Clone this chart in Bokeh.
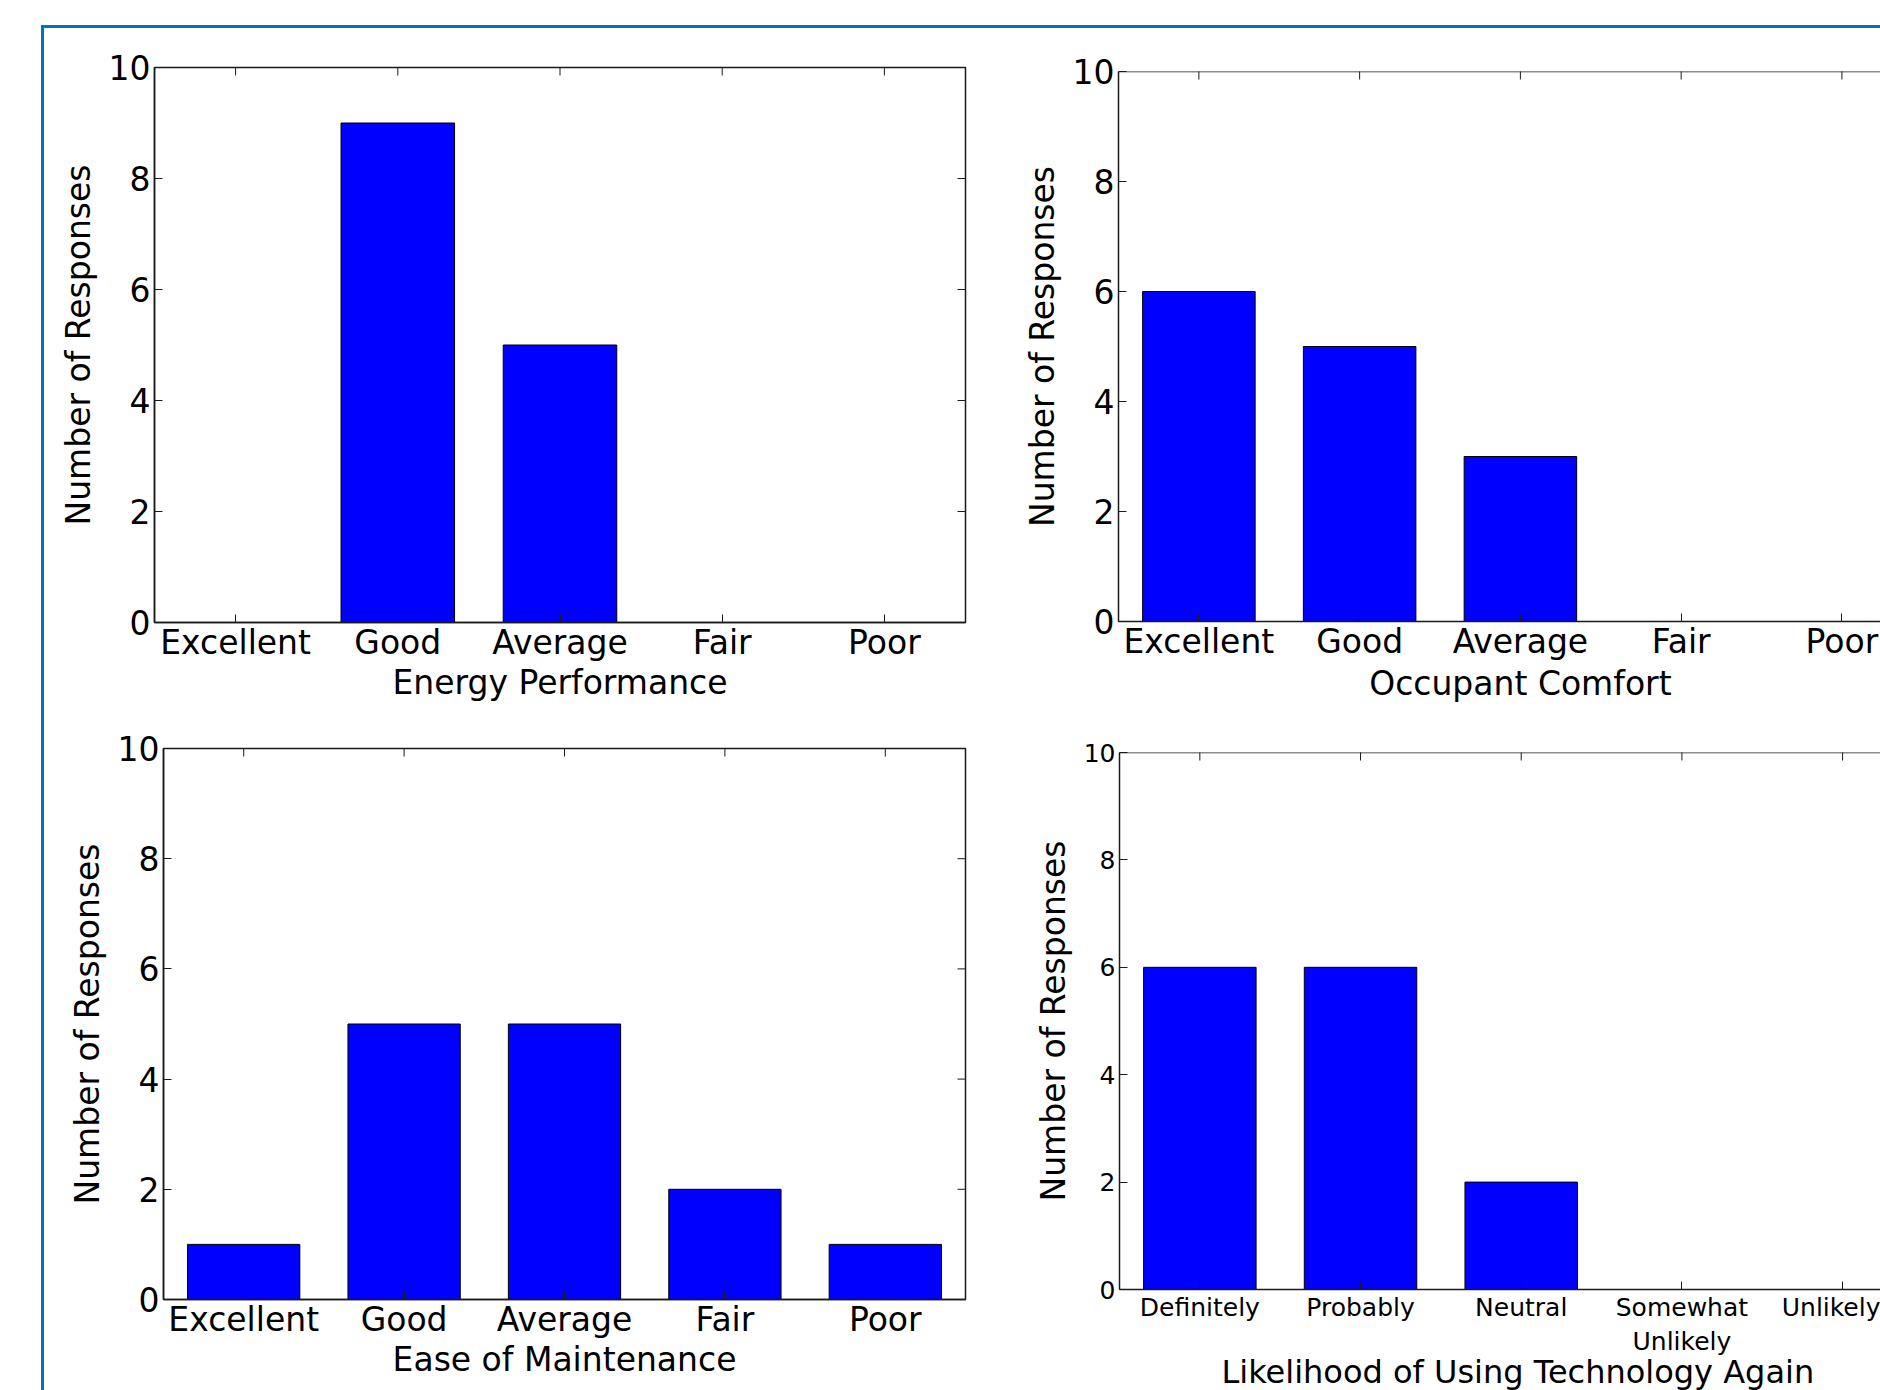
import math
from bokeh.plotting import figure
from bokeh.models import Range1d, FixedTicker, Div, Spacer, Span, Title
from bokeh.layouts import column, row
from bokeh.embed import file_html
from bokeh.resources import INLINE

# ---- data ----
rating_categories = ["Excellent", "Good", "Average", "Fair", "Poor"]
likelihood_categories = ["Definitely", "Probably", "Neutral", "Somewhat\nUnlikely", "Unlikely"]
energy_performance = [0, 9, 5, 0, 0]
occupant_comfort = [6, 5, 3, 0, 0]
ease_of_maintenance = [1, 5, 5, 2, 1]
likelihood_again = [6, 6, 2, 0, 0]
y_ticks = [0, 2, 4, 6, 8, 10]
y_label = "Number of Responses"

FONT = "DejaVu Sans"
AXIS_COLOR = "#1a1a1a"
BLUE_FRAME = "#0070c0"
BAR_COLOR = "#0000ff"
TICK_LEN = 8

# DejaVu Sans advance widths (em) used to centre a title on a given point
_ADV = {" ": .318, "A": .684, "C": .698, "L": .557, "O": .787, "T": .611, "U": .732,
        "a": .613, "c": .550, "d": .635, "e": .615, "f": .352, "g": .635, "h": .634,
        "i": .278, "k": .579, "l": .278, "m": .974, "n": .634, "o": .612, "p": .635,
        "r": .411, "s": .521, "t": .392, "u": .634, "y": .592}


def text_width(s, px):
    return sum(_ADV.get(ch, 0.6) for ch in s) * px


def style_axis(ax, font_size, standoff):
    ax.major_tick_in = TICK_LEN
    ax.major_tick_out = 0
    ax.minor_tick_in = 0
    ax.minor_tick_out = 0
    ax.axis_line_color = AXIS_COLOR
    ax.axis_line_width = 1.5
    ax.major_tick_line_color = AXIS_COLOR
    ax.major_tick_line_width = 1
    ax.major_label_text_font = FONT
    ax.major_label_text_font_size = font_size
    ax.major_label_text_color = "black"
    ax.major_label_standoff = standoff
    ax.axis_label_text_font = FONT
    ax.axis_label_text_font_style = "normal"
    ax.axis_label_text_color = "black"


def make_panel(cats, vals, xlabel, width, height, borders, x_end,
               xtick_font, ytick_font, xlabel_px, ylabel_font, cropped,
               xtick_standoff=0, title_standoff=0):
    left, right, top, bottom = borders
    p = figure(width=width, height=height, output_backend="svg", toolbar_location=None,
               x_range=Range1d(-0.5, x_end), y_range=Range1d(0, 10),
               min_border_left=left, min_border_right=right,
               min_border_top=top, min_border_bottom=bottom)
    p.grid.visible = False
    p.background_fill_color = "white"
    p.border_fill_color = "white"
    xs = list(range(len(cats)))
    p.vbar(x=xs, top=vals, width=0.7, fill_color=BAR_COLOR,
           line_color="black", line_width=1)

    xa = p.xaxis[0]
    xa.ticker = FixedTicker(ticks=xs)
    xa.major_label_overrides = {i: c for i, c in enumerate(cats)}
    style_axis(xa, xtick_font, xtick_standoff)

    ya = p.yaxis[0]
    ya.ticker = FixedTicker(ticks=y_ticks)
    style_axis(ya, ytick_font, 4)
    ya.axis_label = y_label
    ya.axis_label_text_font_size = ylabel_font
    ya.axis_label_standoff = 8

    # inward ticks on the top edge
    p.scatter(x=xs, y=[y_ticks[-1]] * len(xs), marker="dash", size=2 * TICK_LEN,
              angle=math.pi / 2, line_color=AXIS_COLOR, line_width=1)

    if cropped:
        # right part of the panel is cut off by the page edge: no right border,
        # x title centred on the middle category (centre of the full, uncut panel)
        p.outline_line_color = None
        p.add_layout(Span(location=y_ticks[-1], dimension="width",
                          line_color=AXIS_COLOR, line_width=1.5))
        frame_w = width - left - right
        slot = frame_w / (x_end + 0.5)
        mid_px = (len(xs) // 2 + 0.5) * slot
        p.add_layout(Title(text=xlabel, align="left",
                           offset=mid_px - text_width(xlabel, xlabel_px) / 2,
                           standoff=title_standoff, text_font=FONT,
                           text_font_size=f"{xlabel_px}px",
                           text_font_style="normal", text_color="black",
                           vertical_align="top"), "below")
    else:
        p.outline_line_color = AXIS_COLOR
        p.outline_line_width = 1.5
        xa.axis_label = xlabel
        xa.axis_label_text_font_size = f"{xlabel_px}px"
        xa.axis_label_standoff = -2
        # inward ticks on the right edge
        p.scatter(x=[x_end] * len(y_ticks), y=y_ticks, marker="dash", size=2 * TICK_LEN,
                  line_color=AXIS_COLOR, line_width=1)
    return p


tl = make_panel(rating_categories, energy_performance, "Energy Performance",
                956, 687, (110, 35, 39, 93), 4.5, "33px", "33px", 33, "33px", False)
tr = make_panel(rating_categories, occupant_comfort, "Occupant Comfort",
                880, 687, (118, 0, 43, 94), 4.24, "33px", "33px", 33, "33px", True)
bl = make_panel(rating_categories, ease_of_maintenance, "Ease of Maintenance",
                956, 675, (119, 35, 33, 91), 4.5, "33px", "33px", 33, "33px", False)
br = make_panel(likelihood_categories, likelihood_again, "Likelihood of Using Technology Again",
                880, 675, (119, 0, 37, 101), 4.236, "25px", "25px", 32, "33px", True,
                xtick_standoff=3, title_standoff=-14)

top_bar = Div(width=1839, height=3, margin=0, styles={"background-color": BLUE_FRAME})
left_bar = Div(width=3, height=1362, margin=0, styles={"background-color": BLUE_FRAME})

charts = column(
    row(column(tl, margin=0), column(tr, margin=0)),
    row(column(bl, margin=0), column(br, margin=0)),
)

layout = column(
    Spacer(height=25, margin=0),
    row(Spacer(width=41, margin=0),
        column(top_bar, row(left_bar, charts))),
)

open("out.html", "w").write(file_html(layout, INLINE))
